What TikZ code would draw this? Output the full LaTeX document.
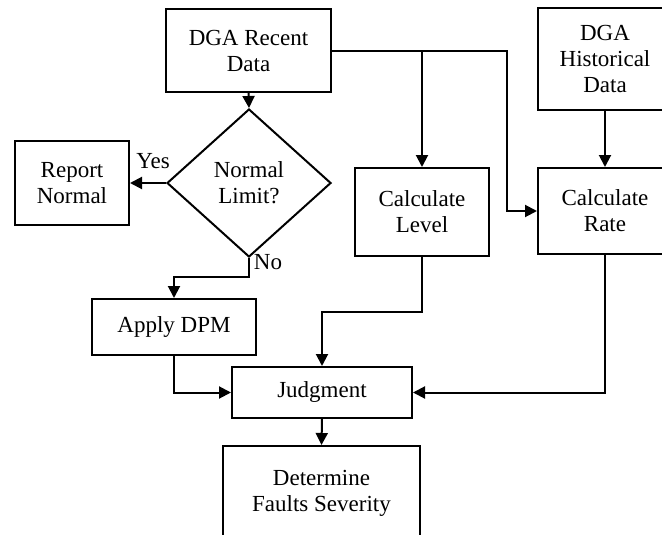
\documentclass[tikz,border=0pt]{standalone}
\usepackage{fontspec}
\setmainfont{Liberation Serif}
\usetikzlibrary{shapes.geometric,arrows.meta}
\begin{document}
\begin{tikzpicture}[x=1pt,y=-1pt,
  every node/.style={font=\fontsize{23}{26}\selectfont},
  box/.style={draw,line width=2pt,rectangle,inner sep=0pt,align=center},
  dec/.style={draw,line width=2pt,diamond,inner sep=0pt,align=center,minimum width=164pt,minimum height=148pt},
  lab/.style={inner sep=0pt},
  conn/.style={line width=2pt,-{Triangle[length=12pt,width=12pt]}},
  plain/.style={line width=2pt}]
\useasboundingbox (0,0) rectangle (662,535);
\node[box,minimum width=165pt,minimum height=83pt] (rec) at (248.5,50.5) {DGA Recent\\Data};
\node[dec] (dia) at (249,183) {Normal\\Limit?};
\node[box,minimum width=114pt,minimum height=84pt] (rep) at (72,183) {Report\\Normal};
\node[box,minimum width=134pt,minimum height=88pt] (lev) at (422,212) {Calculate\\Level};
\node[box,minimum width=134pt,minimum height=102pt] (hist) at (605,59) {DGA\\Historical\\Data};
\node[box,minimum width=134pt,minimum height=86pt] (rate) at (605,211) {Calculate\\Rate};
\node[box,minimum width=164pt,minimum height=56pt] (dpm) at (174,327) {Apply DPM};
\node[box,minimum width=180pt,minimum height=51pt] (jud) at (322,392.5) {Judgment};
\node[box,minimum width=197pt,minimum height=95pt] (det) at (321.5,493.5) {Determine\\Faults Severity};
\node[lab] (yes) at (153,161) {Yes};
\node[lab] (no) at (268,262) {No};
\coordinate (j1) at (422,51);
\coordinate (j2) at (507,51);
\coordinate (j3) at (507,211);
\coordinate (n1) at (249,277);
\coordinate (n2) at (174,277);
\coordinate (d1) at (174,392.5);
\coordinate (l1) at (422,312);
\coordinate (l2) at (322,312);
\coordinate (r1) at (605,392.5);
\draw[conn] (rec.south) -- (dia.north);
\draw[conn] (dia.west) -- (rep.east);
\draw[plain] (rec.east |- j1) -- (j1);
\draw[conn] (j1) -- (lev.north);
\draw[conn] (j1) -- (j2) -- (j3) -- (rate.west);
\draw[conn] (hist.south) -- (rate.north);
\draw[conn] (dia.south) -- (n1) -- (n2) -- (dpm.north);
\draw[conn] (dpm.south) -- (d1) -- (jud.west);
\draw[conn] (lev.south) -- (l1) -- (l2) -- (jud.north);
\draw[conn] (rate.south) -- (r1) -- (jud.east);
\draw[conn] (jud.south) -- (det.north);
\end{tikzpicture}
\end{document}
